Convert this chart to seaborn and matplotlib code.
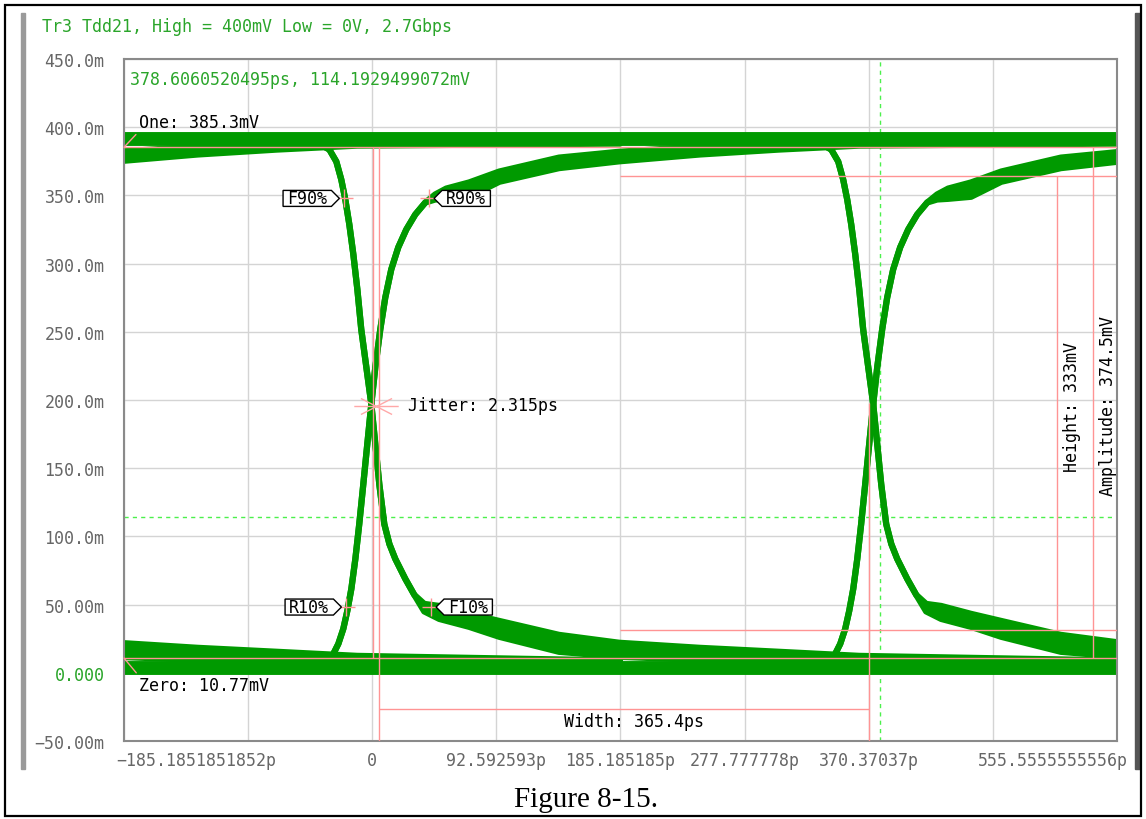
import numpy as np
import pandas as pd
import matplotlib
matplotlib.use('Agg')
import matplotlib.pyplot as plt
import matplotlib.transforms as mtransforms
import seaborn as sns
from matplotlib.path import Path
from matplotlib.patches import Rectangle

sns.set_theme(style='white')
plt.rcParams['font.family'] = ['DejaVu Sans Mono', 'DejaVu Sans']

# ---- data ----
title = "Tr3 Tdd21, High = 400mV Low = 0V, 2.7Gbps"
caption = "Figure 8-15."

x_min, x_max = -185.1851851852, 555.5555555556
x_ticks = [-185.1851851852, -92.5925925926, 0.0, 92.592593, 185.185185,
           277.777778, 370.37037, 462.962963, 555.5555555556]
x_labels = ['\u2212185.1851851852p', '', '0', '92.592593p', '185.185185p',
            '277.777778p', '370.37037p', '', '555.5555555556p']
y_ticks = [450, 400, 350, 300, 250, 200, 150, 100, 50, 0, -50]
y_labels = ['450.0m', '400.0m', '350.0m', '300.0m', '250.0m', '200.0m',
            '150.0m', '100.0m', '50.00m', '0.000', '\u221250.00m']

# crossing times of the eye (ps)
crossings = [-375.2, -0.7, 373.7]

# rising edge: time relative to crossing (ps), upper / lower envelope (mV)
rise_tau = [-45, -34.3, -29.1, -24.6, -20.9, -17.9, -14.9, -11.9, -9.0, -6.0,
            -3.0, 0, 3.0, 6.7, 10.4, 14.9, 20.1, 26.1, 32.8, 40.3, 47.7, 55.9,
            73, 95.5, 140, 185, 245, 304, 364, 560]
rise_upper = [8, 8.8, 12.4, 21.2, 32.2, 45.4, 61.5, 83.5, 109, 138, 167.6, 197,
              224, 251.8, 275, 295.8, 311.9, 325, 336, 344.8, 350.7, 355, 359.5,
              367.5, 377.7, 382, 385.8, 390, 391, 391]
rise_lower = [8, 8.8, 12.4, 21.2, 32.2, 45.4, 61.5, 83.5, 109, 138, 167.6, 197,
              224, 251.8, 275, 295.8, 311.9, 325, 336, 344.8, 347, 347.5, 349,
              360, 370, 375, 380, 383.6, 386.5, 388]

# falling edge
fall_tau = [-45, -37.3, -31.3, -26.1, -22.4, -19.4, -16.4, -13.4, -10.4, -7.5,
            -3.7, 0, 3.0, 6.0, 9.7, 13.5, 17.9, 25.4, 32.1, 39.5, 50.7, 73,
            95.5, 140, 185, 245, 304, 364, 560]
fall_upper = [391, 387, 383.6, 374.8, 361.6, 347, 328.7, 306.7, 281, 251.8,
              224, 197, 167.6, 138, 109, 94.4, 83.5, 68.8, 57.1, 50.5, 49,
              43.2, 38, 27.8, 22, 18.3, 15.4, 12.4, 9]
fall_lower = [391, 387, 383.6, 374.8, 361.6, 347, 328.7, 306.7, 281, 251.8,
              224, 197, 167.6, 138, 109, 94.4, 83.5, 68.8, 57.1, 45, 39.5,
              33.7, 26.4, 15.4, 11.7, 9.5, 8.8, 8, 6]

high_steady = 391.0
low_steady = 3.3

one_level = 385.3
zero_level = 10.77
eye_height = 333
amplitude = 374.5
eye_top, eye_bottom = 364.5, 31.5
jitter = 2.315
width = 365.4
jitter_left, jitter_right = 0.2, 5.0
width_end = 370.4
width_level = -26.4
height_t = 510.8
amp_t = 537.6
box_start = 185.185185
cross_level = 197.9

cursor_t = 378.6060520495
cursor_v = 114.1929499072

marker_names = ['F90%', 'R90%', 'R10%', 'F10%']
marker_t = [-20.9, 42.5, -19.4, 44.0]
marker_v = [347.8, 347.8, 48.2, 48.2]
marker_side = ['left', 'right', 'left', 'right']

GREEN = '#009a00'
TEXT_GREEN = '#2aa52a'
CURSOR = '#4cf04c'
RED = '#ff9494'
GRID = '#d4d4d4'

# ---- build trace table ----
rows = []
k = 0
for c in crossings:
    for tau, vals in [(rise_tau, rise_upper), (rise_tau, rise_lower),
                      (fall_tau, fall_upper), (fall_tau, fall_lower)]:
        for a, b in zip(tau, vals):
            rows.append((c + a, b, k))
        k += 1
traces = pd.DataFrame(rows, columns=['t', 'v', 'trace'])
steady = pd.DataFrame({'t': [x_min - 10, x_max + 10, x_min - 10, x_max + 10],
                       'v': [high_steady, high_steady, low_steady, low_steady],
                       'trace': [0, 0, 1, 1]})

fig = plt.figure(figsize=(11.46, 8.2), dpi=100)
ax = fig.add_axes([124 / 1146, 78 / 820, 993 / 1146, 682 / 820])

ax.grid(True, color=GRID, lw=1, zorder=0)
ax.set_axisbelow(True)

# cursor lines
ax.axvline(cursor_t, color=CURSOR, lw=1, ls=(0, (3, 3)), zorder=1)
ax.axhline(cursor_v, color=CURSOR, lw=1, ls=(0, (3, 3)), zorder=1)

# eye traces: filled band between envelopes, outlined by thick lines
for c in crossings:
    ax.fill_between(np.add(rise_tau, c), rise_lower, rise_upper, color=GREEN,
                    lw=0, zorder=2)
    ax.fill_between(np.add(fall_tau, c), fall_lower, fall_upper, color=GREEN,
                    lw=0, zorder=2)
sns.lineplot(data=steady, x='t', y='v', units='trace', estimator=None,
             sort=False, color=GREEN, linewidth=10, legend=False, ax=ax,
             zorder=2, solid_capstyle='butt')
sns.lineplot(data=traces, x='t', y='v', units='trace', estimator=None,
             sort=False, color=GREEN, linewidth=4.5, legend=False, ax=ax,
             zorder=2)

# measurement lines
ax.axhline(one_level, color=RED, lw=1, zorder=3)
ax.axhline(zero_level, color=RED, lw=1, zorder=3)
ax.vlines(jitter_left, zero_level, one_level, color=RED, lw=1, zorder=3)
ax.vlines(jitter_right, -50, one_level, color=RED, lw=1, zorder=3)
ax.vlines(width_end, -50, cross_level, color=RED, lw=1, zorder=3)
ax.hlines(width_level, jitter_right, width_end, color=RED, lw=1, zorder=3)
ax.hlines([eye_top, eye_bottom], box_start, x_max, color=RED, lw=1, zorder=3)
ax.vlines(height_t, eye_bottom, eye_top, color=RED, lw=1, zorder=3)
ax.vlines(amp_t, zero_level, one_level, color=RED, lw=1, zorder=3)

# jitter star
star = Path([(-1, 0), (1, 0), (-0.7, -0.36), (0.7, 0.36), (-0.7, 0.36), (0.7, -0.36)],
            [Path.MOVETO, Path.LINETO] * 3)
ax.plot([(jitter_left + jitter_right) / 2], [cross_level - 2], marker=star,
        ms=32, mew=1, color='#ffa8a8', ls='none', zorder=4)

sns.scatterplot(x=marker_t, y=marker_v, marker='+', s=150, color=RED,
                linewidth=1, ax=ax, zorder=4, legend=False)


def tag_box(direction):
    def style(x0, y0, w, h, mutation_size):
        px = 0.25 * mutation_size
        py = -0.06 * mutation_size
        x0, y0 = x0 - px, y0 - py
        x1, y1 = x0 + w + 2 * px, y0 + h + 2 * py
        ym = (y0 + y1) / 2
        tip = (y1 - y0) / 2
        if direction == 'left':
            verts = [(x0, y0), (x1, y0), (x1 + tip, ym), (x1, y1), (x0, y1), (x0, y0)]
        else:
            verts = [(x0, y0), (x1, y0), (x1, y1), (x0, y1), (x0 - tip, ym), (x0, y0)]
        return Path(verts, closed=True)
    return style


for name, t, v, side in zip(marker_names, marker_t, marker_v, marker_side):
    dx = -17 if side == 'left' else 17
    ax.annotate(name, xy=(t, v), xytext=(dx, 0), textcoords='offset pixels',
                ha='right' if side == 'left' else 'left', va='center',
                fontsize=12, color='black', zorder=5,
                bbox=dict(boxstyle=tag_box(side), fc='white', ec='black', lw=1))

# annotation texts
ax.annotate(f"One: {one_level}mV", xy=(x_min, one_level), xytext=(15, 16),
            textcoords='offset pixels', ha='left', va='bottom', fontsize=12,
            color='black', arrowprops=dict(arrowstyle='-', color=RED, lw=1,
                                           shrinkA=0, shrinkB=0, relpos=(0, 0)))
ax.annotate(f"Zero: {zero_level}mV", xy=(x_min, zero_level), xytext=(15, -18),
            textcoords='offset pixels', ha='left', va='top', fontsize=12,
            color='black', arrowprops=dict(arrowstyle='-', color=RED, lw=1,
                                           shrinkA=0, shrinkB=0, relpos=(0, 1)))
ax.annotate(f"Jitter: {jitter}ps", xy=((jitter_left + jitter_right) / 2, cross_level),
            xytext=(32, -2), textcoords='offset pixels', ha='left', va='center',
            fontsize=12, color='black')
ax.annotate(f"Width: {width}ps", xy=((jitter_right + width_end) / 2, width_level),
            xytext=(10, -12), textcoords='offset pixels', ha='center', va='center',
            fontsize=12, color='black')
ax.annotate(f"Height: {eye_height}mV", xy=(height_t, (eye_top + eye_bottom) / 2),
            xytext=(15, -3), textcoords='offset pixels', ha='center', va='center',
            rotation=90, fontsize=12, color='black')
ax.annotate(f"Amplitude: {amplitude}mV", xy=(amp_t, (one_level + zero_level) / 2),
            xytext=(15, -2), textcoords='offset pixels', ha='center', va='center',
            rotation=90, fontsize=12, color='black')
ax.text(0.006, 0.984, f"{cursor_t}ps, {cursor_v}mV", transform=ax.transAxes,
        ha='left', va='top', fontsize=12, color=TEXT_GREEN)

ax.set_xlim(x_min, x_max)
ax.set_ylim(-50, 450)
ax.set_xticks(x_ticks)
ax.set_xticklabels(x_labels)
ax.set_yticks(y_ticks)
ax.set_yticklabels(y_labels)
ax.set_xlabel('')
ax.set_ylabel('')
ax.tick_params(axis='both', length=0, labelsize=12, labelcolor='#666666')
ax.tick_params(axis='y', pad=14)
ax.tick_params(axis='x', pad=7)
for lab in ax.get_yticklabels():
    if lab.get_text() == '0.000':
        lab.set_color(TEXT_GREEN)
xl = ax.get_xticklabels()
xl[0].set_ha('left')
xl[0].set_transform(xl[0].get_transform() +
                    mtransforms.ScaledTranslation(-8 / 100, 0, fig.dpi_scale_trans))
xl[-1].set_ha('right')
xl[-1].set_transform(xl[-1].get_transform() +
                     mtransforms.ScaledTranslation(11 / 100, 0, fig.dpi_scale_trans))
for s in ax.spines.values():
    s.set_color('#8a8a8a')
    s.set_linewidth(1.5)

# screenshot frame and caption
fig.text(42 / 1146, 1 - 27 / 820, title, ha='left', va='center', fontsize=12,
         color=TEXT_GREEN)
fig.patches.append(Rectangle((21 / 1146, 1 - 770 / 820), 4 / 1146, 756 / 820,
                             transform=fig.transFigure, color='#9a9a9a', zorder=0))
fig.patches.append(Rectangle((1135 / 1146, 1 - 770 / 820), 5 / 1146, 756 / 820,
                             transform=fig.transFigure, color='#555555', zorder=0))
fig.patches.append(Rectangle((5 / 1146, 3 / 820), 1136 / 1146, 811 / 820,
                             transform=fig.transFigure, fill=False, ec='black',
                             lw=1.6, zorder=0))
fig.text(586 / 1146, 1 - 800 / 820, caption, ha='center', va='center',
         fontsize=21, family='Liberation Serif', color='black')

fig.savefig('out.png', dpi=100)
